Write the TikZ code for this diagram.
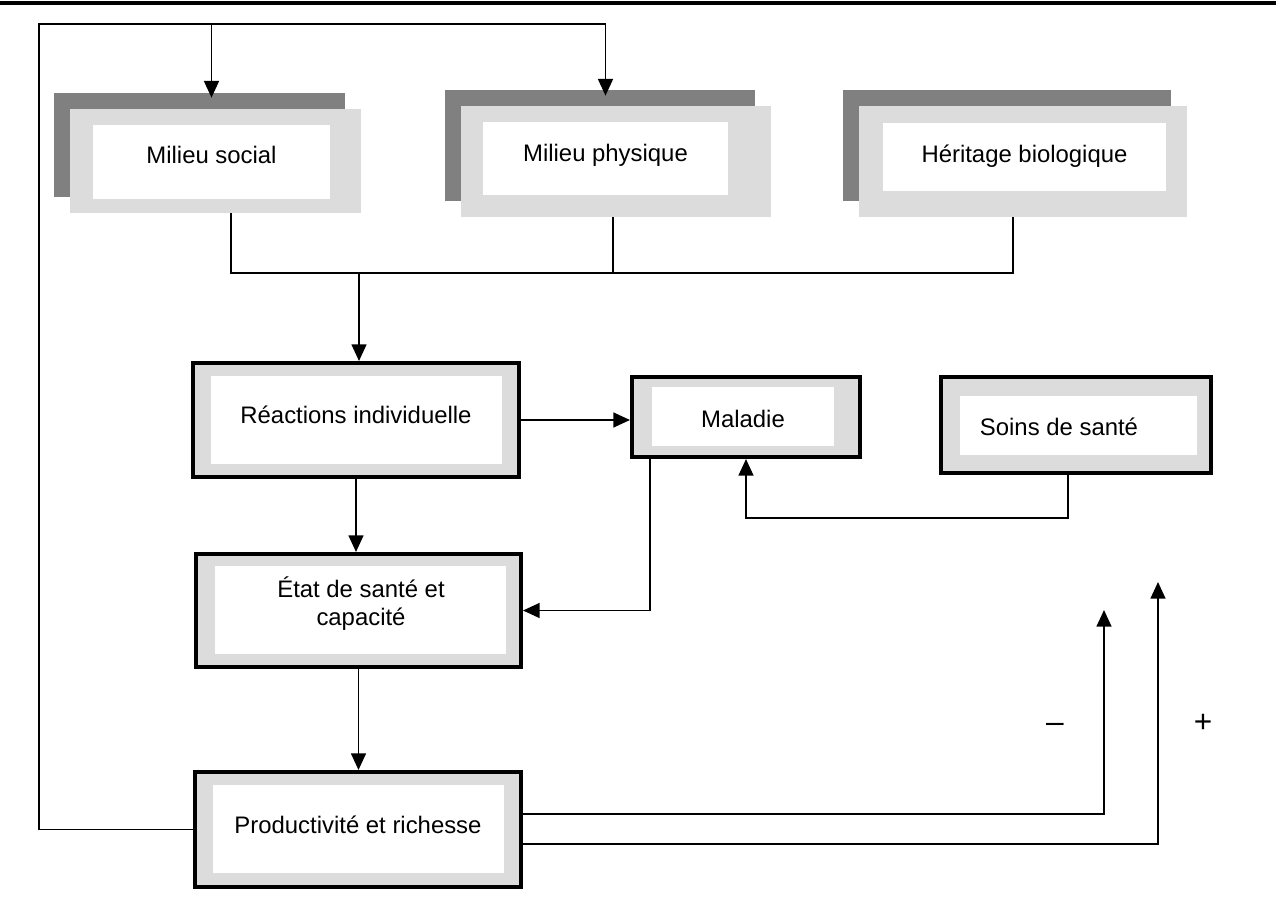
\documentclass[tikz,border=0pt]{standalone}
\usepackage{fontspec}
\setmainfont{Liberation Sans}
\usetikzlibrary{arrows.meta}
\definecolor{framegrey}{RGB}{220,220,220}
\definecolor{shadowgrey}{RGB}{128,128,128}

\begin{document}
\begin{tikzpicture}[x=0.02cm, y=-0.02cm,
        sh/.style   = {fill=shadowgrey, inner sep=0pt},
        fr/.style   = {fill=framegrey, inner sep=0pt},
        bx/.style   = {fill=framegrey, draw=black, line width=2.3pt, inner sep=0pt},
        wh/.style   = {fill=white, inner sep=0pt},
        txt/.style  = {font=\fontsize{13.6}{15.5}\selectfont, anchor=base, inner sep=0pt},
        sign/.style = {font=\fontsize{18}{18}\selectfont, inner sep=0pt},
        ln/.style   = {line width=1pt},
        ar/.style   = {-{Triangle[length=9.5pt, width=8.5pt]}, line width=1pt}
    ]
        \useasboundingbox (0,0) rectangle (1276,909);
        \draw[line width=2.3pt] (0,3) -- (1276,3);

        \node[sh, minimum width=5.82cm, minimum height=2.08cm] (ms-sh) at (199.5,145) {};
        \node[fr, minimum width=5.82cm, minimum height=2.08cm] (ms)    at (215.5,161) {};
        \node[wh, minimum width=4.74cm, minimum height=1.48cm] (ms-in) at (211.5,162) {};
        \node[txt] (ms-t) at (211.5,164) {Milieu social};

        \node[sh, minimum width=6.2cm, minimum height=2.22cm] (mp-sh) at (600,145.5) {};
        \node[fr, minimum width=6.2cm, minimum height=2.22cm] (mp)    at (616,161.5) {};
        \node[wh, minimum width=4.9cm, minimum height=1.46cm] (mp-in) at (605.5,158.5) {};
        \node[txt] (mp-t) at (605.5,162) {Milieu physique};

        \node[sh, minimum width=6.56cm, minimum height=2.22cm] (hb-sh) at (1007,145.5) {};
        \node[fr, minimum width=6.56cm, minimum height=2.22cm] (hb)    at (1023,161.5) {};
        \node[wh, minimum width=5.66cm, minimum height=1.36cm] (hb-in) at (1024.5,157) {};
        \node[txt] (hb-t) at (1024.5,163) {Héritage biologique};

        \node[bx, minimum width=6.52cm, minimum height=2.28cm] (react)    at (356,420) {};
        \node[wh, minimum width=5.82cm, minimum height=1.76cm] (react-in) at (356.5,420) {};
        \node[txt] (react-t) at (356,423) {Réactions individuelle};

        \node[bx, minimum width=6.5cm, minimum height=2.26cm] (etat)    at (358.5,610.5) {};
        \node[wh, minimum width=5.82cm, minimum height=1.76cm] (etat-in) at (360.5,610) {};
        \node[txt, align=center] (etat-t) at (361,625) {État de santé et\\capacité};

        \node[bx, minimum width=4.56cm, minimum height=1.6cm] (mal)    at (746,417) {};
        \node[wh, minimum width=3.64cm, minimum height=1.18cm] (mal-in) at (743,416.5) {};
        \node[txt] (mal-t) at (743,427) {Maladie};

        \node[bx, minimum width=5.4cm, minimum height=1.92cm] (soins)    at (1076,425) {};
        \node[wh, minimum width=4.74cm, minimum height=1.18cm] (soins-in) at (1078.5,425.5) {};
        \node[txt] (soins-t) at (1059,435) {Soins de santé};

        \node[bx, minimum width=6.52cm, minimum height=2.3cm] (prod)    at (358,829.5) {};
        \node[wh, minimum width=5.82cm, minimum height=1.76cm] (prod-in) at (358.5,829) {};
        \node[txt] (prod-t) at (358,833) {Productivité et richesse};

        \coordinate (loop)   at (39,24);
        \coordinate (bus)    at (359,273);
        \coordinate (ms-out) at ([xshift=0.31cm]ms.south);
        \coordinate (mp-out) at ([xshift=-0.06cm]mp.south);
        \coordinate (hb-out) at ([xshift=-0.2cm]hb.south);
        \coordinate (neg)    at (1104,610);
        \coordinate (pos)    at (1158,582);

        \draw[ar, shorten >=-0.12cm] (prod.west) -| (loop) -| (mp-in |- mp-sh.north);
        \draw[ar, shorten >=-0.1cm] (ms-in |- loop) -- (ms-in |- ms-sh.north);

        \draw[ln] (ms-out) |- (hb-out |- bus) -- (hb-out);
        \draw[ln] (mp-out) -- (mp-out |- bus);
        \draw[ar] (bus) -- (bus |- react.north);

        \draw[ar] (react.south) -- (react.south |- etat.north);
        \draw[ar] (etat.south) -- (etat.south |- prod.north);
        \draw[ar] (react.east) -- (react.east -| mal.west);
        \draw[ar] ([xshift=0.4cm]mal.south west) |- (etat.east);
        \draw[ar] ([xshift=-0.16cm]soins.south) |- ([yshift=-1.18cm]mal.south) -- (mal.south);

        \draw[ar] ([yshift=0.31cm]prod.east) -| (neg);
        \draw[ar] ([yshift=-0.29cm]prod.east) -| (pos);
        \node[sign] (neg-t) at (1055,728) {–};
        \node[sign] (pos-t) at (1203,723) {+};
    \end{tikzpicture}
\end{document}
